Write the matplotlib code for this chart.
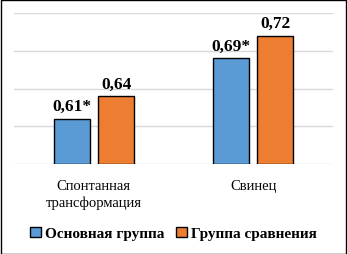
import matplotlib.pyplot as plt
from matplotlib.patches import Rectangle
import numpy as np

plt.rcParams['font.family'] = 'serif'
plt.rcParams['font.serif'] = ['Liberation Serif', 'Times New Roman', 'DejaVu Serif']

categories = ['Спонтанная\nтрансформация', 'Свинец']
main_vals = [0.61, 0.69]
comp_vals = [0.64, 0.72]
main_labels = ['0,61*', '0,69*']
comp_labels = ['0,64', '0,72']
series_names = ['Основная группа', 'Группа сравнения']

blue = '#5b9bd5'
orange = '#ed7d31'

fig = plt.figure(figsize=(3.47, 2.55), dpi=100)
ax = fig.add_axes([0.041, 0.353, 0.918, 0.591])

x = np.arange(len(categories))
w = 0.226
off = 0.14
base = 0.55
ax.bar(x - off, np.array(main_vals) - base, w, bottom=base,
       color=blue, edgecolor='black', linewidth=1, zorder=3)
ax.bar(x + off, np.array(comp_vals) - base, w, bottom=base,
       color=orange, edgecolor='black', linewidth=1, zorder=3)

for xi, v, t in zip(x - off, main_vals, main_labels):
    ax.text(xi, v + 0.006, t, ha='center', va='bottom',
            fontsize=12.5, fontweight='bold')
for xi, v, t in zip(x + off, comp_vals, comp_labels):
    ax.text(xi, v + 0.006, t, ha='center', va='bottom',
            fontsize=12.5, fontweight='bold')

ax.set_xlim(-0.5, 1.5)
ax.set_ylim(base, 0.75)
ax.set_yticks([0.55, 0.60, 0.65, 0.70, 0.75])
ax.yaxis.grid(True, color='#d9d9d9', linewidth=1, zorder=0)
ax.tick_params(axis='y', left=False, labelleft=False)
ax.tick_params(axis='x', bottom=False, labelsize=10.5, pad=7)
ax.set_xticks(x)
ax.set_xticklabels(categories, linespacing=1.35)
for s in ax.spines.values():
    s.set_visible(False)

handles = [Rectangle((0, 0), 1, 1, facecolor=blue, edgecolor='black', linewidth=1),
           Rectangle((0, 0), 1, 1, facecolor=orange, edgecolor='black', linewidth=1)]
fig.legend(handles, series_names, loc='center', bbox_to_anchor=(0.5, 0.08),
           ncol=2, frameon=False, prop={'weight': 'bold', 'size': 11},
           handlelength=0.7, handleheight=0.7, handletextpad=0.25,
           columnspacing=0.8)

fig.patches.append(Rectangle((0.5 / 347, 0.5 / 255), 1 - 1.5 / 347, 1 - 1.5 / 255,
                             transform=fig.transFigure, fill=False,
                             edgecolor='black', linewidth=1))

fig.savefig('out.png', dpi=100)
